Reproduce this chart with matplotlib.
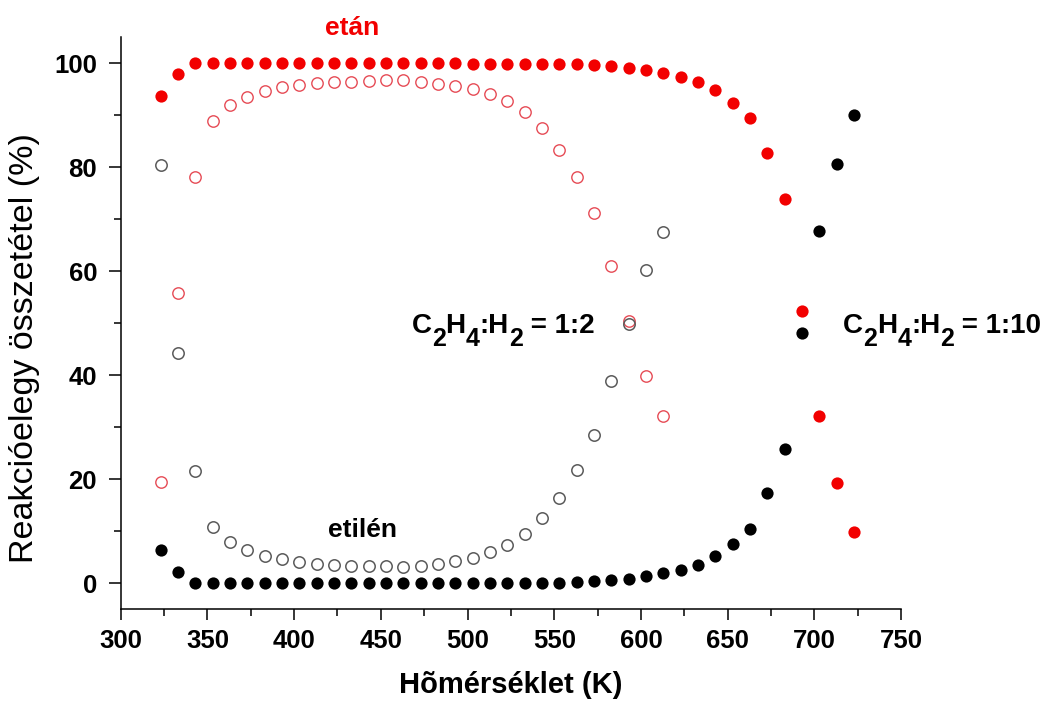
import matplotlib
matplotlib.use("Agg")
import matplotlib.pyplot as plt
from matplotlib.ticker import MultipleLocator

plt.rcParams['font.family'] = ['Liberation Sans', 'DejaVu Sans']
plt.rcParams['font.weight'] = 'bold'

# Temperature grid (K)
temps_1_10 = [323, 333, 343, 353, 363, 373, 383, 393, 403, 413, 423, 433, 443, 453,
              463, 473, 483, 493, 503, 513, 523, 533, 543, 553, 563, 573, 583, 593,
              603, 613, 623, 633, 643, 653, 663, 673, 683, 693, 703, 713, 723]
temps_1_2 = temps_1_10[:30]

# C2H4:H2 = 1:10 (filled markers)
ethane_1_10 = [93.8, 97.9, 100.0, 100.0, 100.0, 100.0, 100.0, 100.0, 100.0, 100.0,
               100.0, 100.0, 100.0, 100.0, 100.0, 100.0, 100.0, 100.0, 99.9, 99.9,
               99.9, 99.9, 99.8, 99.8, 99.8, 99.6, 99.4, 99.1, 98.8, 98.1,
               97.4, 96.5, 94.8, 92.4, 89.4, 82.7, 73.9, 52.3, 32.2, 19.2, 9.9]
ethylene_1_10 = [6.4, 2.2, 0.0, 0.0, 0.0, 0.0, 0.0, 0.0, 0.0, 0.0,
                 0.0, 0.0, 0.0, 0.0, 0.0, 0.0, 0.0, 0.0, 0.0, 0.1,
                 0.1, 0.1, 0.1, 0.15, 0.25, 0.4, 0.7, 0.9, 1.35, 2.0,
                 2.6, 3.5, 5.3, 7.5, 10.5, 17.3, 25.9, 48.1, 67.8, 80.7, 90.1]

# C2H4:H2 = 1:2 (open markers)
ethane_1_2 = [19.4, 55.8, 78.2, 89.0, 91.9, 93.5, 94.7, 95.4, 95.9, 96.2,
              96.4, 96.5, 96.6, 96.7, 96.7, 96.5, 96.1, 95.7, 95.1, 94.1,
              92.7, 90.6, 87.5, 83.4, 78.2, 71.3, 61.0, 50.5, 39.9, 32.2]
ethylene_1_2 = [80.5, 44.2, 21.6, 10.8, 8.0, 6.4, 5.2, 4.6, 4.1, 3.8,
                3.5, 3.3, 3.3, 3.3, 3.1, 3.4, 3.8, 4.3, 4.9, 6.0,
                7.4, 9.4, 12.6, 16.5, 21.8, 28.6, 39.0, 49.8, 60.3, 67.6]

fig = plt.figure(figsize=(10.48, 7.08), dpi=100)
ax = fig.add_axes([0.1152, 0.1394, 0.7445, 0.8079])

ax.plot(temps_1_2, ethane_1_2, 'o', ls='none', ms=8.2, mfc='none',
        mec='#e64b55', mew=1.0)
ax.plot(temps_1_2, ethylene_1_2, 'o', ls='none', ms=8.2, mfc='none',
        mec='#5a5a5a', mew=1.1)
ax.plot(temps_1_10, ethane_1_10, 'o', ls='none', ms=8.8, color='#f20000', mew=0)
ax.plot(temps_1_10, ethylene_1_10, 'o', ls='none', ms=8.8, color='black', mew=0)

ax.set_xlim(300, 750)
ax.set_ylim(-5, 105)
ax.xaxis.set_major_locator(MultipleLocator(50))
ax.xaxis.set_minor_locator(MultipleLocator(25))
ax.yaxis.set_major_locator(MultipleLocator(20))
ax.yaxis.set_minor_locator(MultipleLocator(10))

for side in ('top', 'right'):
    ax.spines[side].set_visible(False)
for side in ('left', 'bottom'):
    ax.spines[side].set_linewidth(1.1)

ax.tick_params(axis='both', which='both', direction='out', width=1.1)
ax.tick_params(axis='x', which='major', length=8, pad=6, labelsize=18.5)
ax.tick_params(axis='y', which='major', length=9, pad=8, labelsize=18.5)
ax.tick_params(axis='both', which='minor', length=5)

ax.set_xlabel('Hõmérséklet (K)', fontsize=21, fontweight='bold')
ax.set_ylabel('Reakcióelegy összetétel (%)', fontsize=24.5, fontweight='normal')
ax.xaxis.set_label_coords(0.5, -0.108)
ax.yaxis.set_label_coords(-0.1034, 0.456)

ax.text(433.7, 105.5, 'etán', color='#f20000', fontsize=19, fontweight='bold',
        ha='center', va='baseline', clip_on=False)
ax.text(439.4, 8.9, 'etilén', color='black', fontsize=19, fontweight='bold',
        ha='center', va='baseline')


def formula(x, y, pieces, size=20, sub_size=18, drop=8.5):
    """Draw a chemical ratio label with large, well-dropped subscripts."""
    first = ax.text(x, y, pieces[0][0], fontsize=size, fontweight='bold',
                    ha='left', va='baseline')
    prev = first
    for txt, is_sub in pieces[1:]:
        prev = ax.annotate(txt, xy=(1, 0), xycoords=(prev, first),
                           xytext=(0, -drop if is_sub else 0),
                           textcoords='offset points',
                           fontsize=sub_size if is_sub else size,
                           fontweight='bold', ha='left', va='bottom')
    return first


ratio_pieces = [('C', False), ('2', True), ('H', False), ('4', True),
                (':H', False), ('2', True)]
formula(467.8, 48.1, ratio_pieces + [(' = 1:2', False)])
formula(716.7, 48.1, ratio_pieces + [(' = 1:10', False)])

fig.savefig('out.png', dpi=100, facecolor='white')
